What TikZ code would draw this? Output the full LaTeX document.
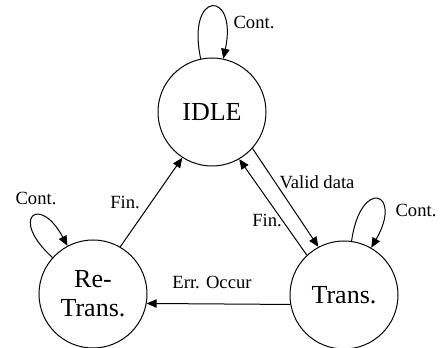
\documentclass[tikz,border=0pt]{standalone}
\usepackage{fontspec}
\setmainfont{Liberation Serif}
\usepackage{tikz}
\usetikzlibrary{arrows.meta}
\tikzset{
	statenode/.style={circle, draw=black, line width=0.5pt, minimum size=54pt, inner sep=0pt, align=center, font=\fontsize{13}{14.5}\selectfont},
	lbl/.style={inner sep=0pt, font=\fontsize{9.3}{11}\selectfont},
	trans/.style={-{Triangle[length=5pt,width=4.2pt]}, line width=0.5pt}
}

\begin{document}
\begin{tikzpicture}[x=0.5pt, y=0.5pt]
		\useasboundingbox (0,0) rectangle (440,348);
		\node[statenode] at (212,236) (idle)    {IDLE};
		\node[statenode] at (93,54) (retrans)   {Re-\\Trans.};
		\node[statenode] at (344,53) (tr)       {Trans.};
		% loops
		\draw[trans] (idle) to[out=102, in=78, looseness=8] (idle);
		\draw[trans] (tr) to[out=82, in=60, looseness=8] (tr);
		\draw[trans] (retrans) to[out=138, in=118, looseness=8] (retrans);
		% edges
		\draw[trans] (retrans.60) -- (idle.-123);
		\draw[trans] (idle.-42) -- (tr.118);
		\draw[trans] (tr.133) -- (idle.-60);
		\draw[trans] (tr.190) -- (retrans.-10);
		\node[lbl] at (254,326) (c1) {Cont.};
		\node[lbl] at (36,150) (c2) {Cont.};
		\node[lbl] at (416,138) (c3) {Cont.};
		\node[lbl] at (125,146) (f1) {Fin.};
		\node[lbl] at (267,128) (f2) {Fin.};
		\node[lbl] at (317,166) (v1) {Valid data};
		\node[lbl] at (212,66) (e1) {Err. Occur};
	\end{tikzpicture}
\end{document}
